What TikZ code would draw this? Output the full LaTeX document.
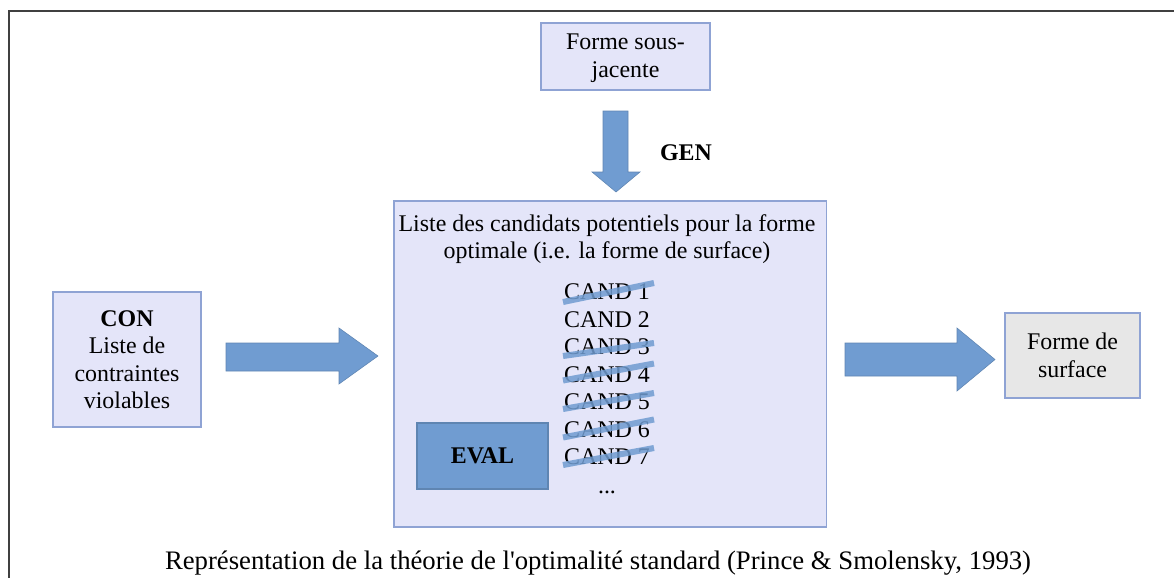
\documentclass[tikz,border=0pt]{standalone}
\usepackage{fontspec}
\setmainfont{Liberation Serif}
\usetikzlibrary{positioning}
\definecolor{lavfill}{RGB}{228,229,249}
\definecolor{boxline}{RGB}{143,163,212}
\definecolor{arrowblue}{RGB}{112,156,209}
\definecolor{greyfill}{RGB}{231,231,231}
\begin{document}
\begin{tikzpicture}[x=0.025cm,y=-0.025cm,font=\fontsize{17}{19.5}\selectfont,
	box/.style={draw=boxline,fill=lavfill,line width=0.8pt,align=center,inner sep=0pt},
	blockarrow/.style={fill=arrowblue,draw=arrowblue!85!black,line width=0.4pt},
	strike/.style={arrowblue,line width=4.3pt,opacity=0.85}]
\useasboundingbox (0,0) rectangle (1174,578);
%\draw[help lines,step=50] (0,0) grid (1174,578);
%% Cadre
\draw[line width=1.2pt,black!75] (1174,11) -- (9,11) -- (9,578);

%% Forme sous-jacente et GEN
\node[box,minimum width=4.225cm,minimum height=1.675cm] (sous) at (625.5,56.5) {\\[-6pt]Forme sous-\\jacente};
\draw[blockarrow] (603,111) -- (628,111) -- (628,172) -- (640,172)
	-- (616,192) -- (592,172) -- (603,172) -- cycle;
\node[font=\fontsize{17}{19.5}\selectfont\bfseries] (gen) at (686,153) {GEN};

%% Liste des candidats
\node[box,minimum width=10.8cm,minimum height=8.15cm] (liste) at (610,364) {};
\node[align=center] (titre) at (607,239) {Liste des candidats potentiels pour la forme\\optimale (i.e. la forme de surface)};
\foreach \i in {1,...,7}
	\node (cand\i) at (607,292+27.5*\i-27.5) {CAND \i};
\node (etc) at (607,492) {...};
%% candidats elimines
\foreach \i/\a/\b in {1/10/-9,3/9/-4,4/6/-11,5/7/-9,6/8/-10,7/8/-9}
	\draw[strike] ([shift={(-44,\a)}]cand\i.center) -- ([shift={(47,\b)}]cand\i.center);
\node[box,fill=arrowblue,draw=arrowblue!85!black,minimum width=3.275cm,minimum height=1.65cm,
	font=\fontsize{17}{19.5}\selectfont\bfseries] (eval) at (482.5,456) {EVAL};

%% CON
\node[box,minimum width=3.7cm,minimum height=3.375cm] (con) at (127,359.5) {\textbf{CON}\\Liste de\\contraintes\\violables};
\draw[blockarrow] (226,343) -- (339,343) -- (339,328) -- (378,356)
	-- (339,384) -- (339,371) -- (226,371) -- cycle;

%% Forme de surface
\draw[blockarrow] (845,343) -- (957,343) -- (957,328) -- (995,359.5)
	-- (957,391) -- (957,376) -- (845,376) -- cycle;
\node[box,fill=greyfill,minimum width=3.375cm,minimum height=2.125cm] (surf) at (1072.5,355.5) {Forme de\\surface};

%% Legende
\node[font=\fontsize{19}{22}\selectfont] (legende) at (598,563) {Représentation de la théorie de l\textquotesingle optimalité standard (Prince \& Smolensky, 1993)};
\end{tikzpicture}
\end{document}
